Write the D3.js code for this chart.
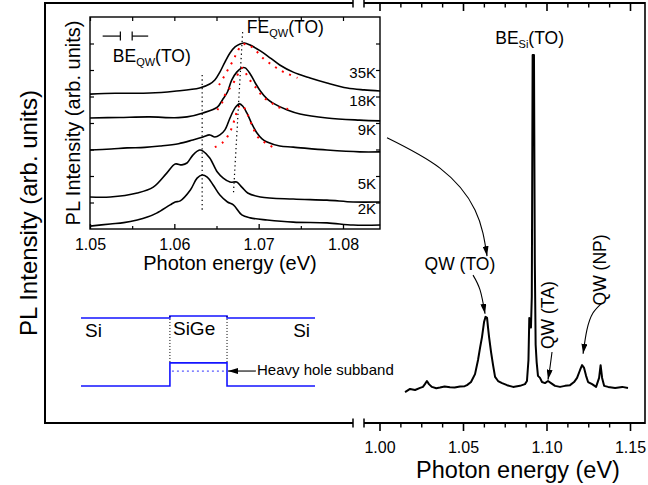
<!DOCTYPE html>
<html>
<head>
<meta charset="utf-8">
<script src="https://cdn.jsdelivr.net/npm/d3@7/dist/d3.min.js"></script>
<style>
  html, body { margin: 0; padding: 0; background: #fff; }
  svg { display: block; }
</style>
</head>
<body>
<svg id="chart" width="648" height="485"></svg>
<script>
// ---------- main spectrum (PL, 2 K) ----------
const mainEnergy = [1.0153,1.0183,1.0213,1.0243,1.0260,1.0272,1.0284,1.0296,1.0314,1.0340,1.0362,1.0390,1.0422,1.0450,1.0482,1.0510,1.0524,1.0548,1.0572,1.0590,1.0602,1.0614,1.0626,1.0635,1.0644,1.0650,1.0656,1.0668,1.0680,1.0692,1.0710,1.0734,1.0764,1.0800,1.0841,1.0871,1.0883,1.0892,1.0897,1.0902,1.0907,1.0912,1.0917,1.0925,1.0930,1.0935,1.0941,1.0949,1.0961,1.0973,1.0991,1.1009,1.1027,1.1051,1.1081,1.1111,1.1141,1.1165,1.1183,1.1201,1.1213,1.1225,1.1237,1.1249,1.1273,1.1297,1.1315,1.1324,1.1333,1.1345,1.1369,1.1411,1.1453,1.1488];
const mainIntensity = [2.3,3.2,2.9,3.5,3.8,4.6,5.5,4.6,3.8,3.4,3.6,3.9,3.7,3.6,3.9,4.0,4.3,5.2,7.5,11.6,15.1,18.3,22.6,24.1,23.8,20.9,18.3,13.9,10.1,6.7,5.5,4.9,4.3,3.8,4.1,4.6,5.5,11.6,23.8,22.5,21.0,30,100,100,40,16,11,7.0,6.4,5.2,4.9,5.5,4.9,4.1,3.8,4.1,4.3,5.2,6.4,8.7,10.1,9.3,7.0,5.2,4.6,3.8,6.4,10.1,6.4,4.1,3.8,3.5,3.8,3.5];

const mainTicksMajor = [1.00, 1.05, 1.10, 1.15];
const mainTickLabels = ["1.00", "1.05", "1.10", "1.15"];
const mainTicksMinor = [1.0125, 1.025, 1.0375, 1.0625, 1.075, 1.0875, 1.1125, 1.125, 1.1375];

// ---------- temperature series (stacked, arb. units) ----------
const spec35K = [[1.0500,5.09],[1.0530,5.12],[1.0571,5.13],[1.0600,5.20],[1.0630,5.32],[1.0642,5.47],[1.0648,5.62],[1.0654,5.92],[1.0660,6.30],[1.0666,6.64],[1.0672,6.87],[1.0678,6.98],[1.0683,7.02],[1.0690,6.94],[1.0702,6.72],[1.0714,6.45],[1.0725,6.19],[1.0741,5.92],[1.0761,5.70],[1.0781,5.51],[1.0805,5.32],[1.0825,5.25],[1.0844,5.21]];
const spec18K = [[1.0500,4.19],[1.0535,4.21],[1.0571,4.23],[1.0600,4.20],[1.0615,4.23],[1.0634,4.38],[1.0651,4.60],[1.0657,4.87],[1.0663,5.17],[1.0668,5.62],[1.0674,5.92],[1.0680,6.08],[1.0684,6.08],[1.0690,5.85],[1.0696,5.51],[1.0702,5.21],[1.0710,4.91],[1.0717,4.75],[1.0734,4.49],[1.0749,4.34],[1.0781,4.19],[1.0820,4.11],[1.0844,4.08]];
const spec9K = [[1.0500,2.98],[1.0525,3.02],[1.0544,3.06],[1.0565,3.08],[1.0583,3.13],[1.0605,3.22],[1.0622,3.36],[1.0634,3.47],[1.0642,3.55],[1.0648,3.47],[1.0654,3.55],[1.0660,3.74],[1.0666,4.19],[1.0672,4.57],[1.0677,4.72],[1.0681,4.64],[1.0686,4.38],[1.0692,3.96],[1.0698,3.62],[1.0704,3.40],[1.0710,3.28],[1.0725,3.13],[1.0741,3.09],[1.0781,2.98],[1.0820,2.91],[1.0844,2.91]];
const spec5K = [[1.0500,1.21],[1.0524,1.21],[1.0556,1.36],[1.0575,1.58],[1.0591,2.11],[1.0601,2.45],[1.0609,2.42],[1.0615,2.49],[1.0622,2.79],[1.0630,2.98],[1.0634,2.94],[1.0642,2.68],[1.0651,2.15],[1.0658,1.92],[1.0666,1.77],[1.0674,1.77],[1.0680,1.58],[1.0687,1.36],[1.0702,1.21],[1.0741,1.13],[1.0781,1.09],[1.0812,1.02],[1.0844,1.02]];
const spec2K = [[1.0500,0.11],[1.0524,0.19],[1.0540,0.24],[1.0556,0.34],[1.0568,0.45],[1.0579,0.60],[1.0595,0.91],[1.0601,1.02],[1.0607,1.06],[1.0619,1.47],[1.0627,1.92],[1.0633,2.04],[1.0639,1.96],[1.0646,1.66],[1.0654,1.28],[1.0663,1.02],[1.0670,0.91],[1.0680,0.53],[1.0690,0.42],[1.0710,0.34],[1.0741,0.26],[1.0781,0.23],[1.0812,0.15],[1.0844,0.15]];

// line-shape fits of the free-exciton line
const fit35K = [[1.0653,5.43],[1.0658,5.70],[1.0664,6.04],[1.0670,6.38],[1.0674,6.64],[1.0680,6.94],[1.0686,6.98],[1.0696,6.75],[1.0706,6.42],[1.0716,6.19],[1.0725,6.00],[1.0735,5.85],[1.0746,5.70]];
const fit18K = [[1.0651,4.49],[1.0657,4.79],[1.0660,5.06],[1.0666,5.32],[1.0672,5.62],[1.0678,6.00],[1.0681,6.08],[1.0686,5.81],[1.0692,5.51],[1.0699,5.25],[1.0705,4.98],[1.0714,4.79],[1.0723,4.60],[1.0735,4.53]];
const fit9K = [[1.0648,3.09],[1.0658,3.28],[1.0666,3.66],[1.0672,4.19],[1.0676,4.60],[1.0680,4.68],[1.0686,4.38],[1.0692,3.92],[1.0699,3.47],[1.0708,3.25],[1.0717,3.09]];

const insetSeries = [spec35K, spec18K, spec9K, spec5K, spec2K];
const insetFits = [fit35K, fit18K, fit9K];
const tempLabels = ["35K", "18K", "9K", "5K", "2K"];
const tempLabelLevel = [5.70, 4.64, 3.55, 1.51, 0.57];

const insetTicksMajor = [1.05, 1.06, 1.07, 1.08];
const insetTickLabels = ["1.05", "1.06", "1.07", "1.08"];
const insetTicksMinor = [1.055, 1.065, 1.075];
const insetTicksY = [1, 2, 3, 4, 5, 6, 7];

// ---------- band-edge sketch of the Si/SiGe/Si well ----------
const layerEdges = [0, 38, 62.4, 100];         // depth, arb.
const layerNames = ["Si", "SiGe", "Si"];
const conductionLevel = [1.0, 1.03, 1.0];      // per layer
const valenceLevel = [0.0, 0.34, 0.0];         // per layer
const heavyHoleLevel = 0.22;

// ---------- drawing ----------
const FONT = "'Liberation Sans', Arial, Helvetica, sans-serif";
const svg = d3.select("#chart").attr("font-family", FONT);

const frame = { left: 45, right: 645, top: 3, bottom: 423, breakL: 353, breakR: 364 };
const inset = { left: 90, right: 380, top: 17, bottom: 229 };

const xMain = d3.scaleLinear().domain([1.00, 1.15]).range([379.5, 630]);
const yMain = d3.scaleLinear().domain([0, 100]).range([400, 55]);
const xIn = d3.scaleLinear().domain([1.05, 1.08]).range([inset.left, 343]);
const yIn = d3.scaleLinear().domain([0, 8]).range([inset.bottom, inset.top]);
const xBand = d3.scaleLinear().domain([0, 100]).range([81, 315]);
const yBand = d3.scaleLinear().domain([0, 1]).range([386, 318]);

const defs = svg.append("defs");
defs.append("marker").attr("id", "arrowHead")
  .attr("viewBox", "0 0 10 10").attr("refX", 10).attr("refY", 5)
  .attr("markerWidth", 10).attr("markerHeight", 6)
  .attr("markerUnits", "userSpaceOnUse").attr("orient", "auto")
  .attr("preserveAspectRatio", "none")
  .append("path").attr("d", "M0,0L10,5L0,10z").attr("fill", "#000");

// outer frame with broken energy axis
const fr = svg.append("g").attr("stroke", "#000").attr("fill", "none");
fr.append("line").attr("x1", frame.left).attr("x2", frame.left).attr("y1", frame.top - 1).attr("y2", frame.bottom + 1).attr("stroke-width", 2);
fr.append("line").attr("x1", frame.right).attr("x2", frame.right).attr("y1", frame.top - 1).attr("y2", frame.bottom + 1).attr("stroke-width", 1.6);
[frame.top, frame.bottom].forEach(yy => {
  fr.append("line").attr("x1", frame.left).attr("x2", frame.breakL).attr("y1", yy).attr("y2", yy).attr("stroke-width", 2);
  fr.append("line").attr("x1", frame.breakR).attr("x2", frame.right).attr("y1", yy).attr("y2", yy).attr("stroke-width", 2);
  [frame.breakL, frame.breakR].forEach(xx => {
    fr.append("line").attr("x1", xx).attr("x2", xx).attr("y1", Math.max(0, yy - 4.5)).attr("y2", yy + 4.5).attr("stroke-width", 1.5);
  });
});

function cleanAxis(g, w, keepText) {
  g.select(".domain").remove();
  g.selectAll("line").attr("stroke", "#000").attr("stroke-width", w);
  if (!keepText) g.selectAll("text").remove();
  g.attr("font-family", FONT);
}

// main energy axis (right segment)
svg.append("g").attr("transform", `translate(0,${frame.bottom})`)
  .call(d3.axisBottom(xMain).tickValues(mainTicksMajor).tickFormat((d, i) => mainTickLabels[i]).tickSize(8).tickPadding(10.8))
  .call(g => cleanAxis(g, 1.6, true))
  .attr("font-size", 16);
svg.append("g").attr("transform", `translate(0,${frame.bottom})`)
  .call(d3.axisBottom(xMain).tickValues(mainTicksMinor).tickSize(4.5))
  .call(g => cleanAxis(g, 1.4));
svg.append("g").attr("transform", `translate(0,${frame.top})`)
  .call(d3.axisTop(xMain).tickValues(mainTicksMajor).tickSize(-8))
  .call(g => cleanAxis(g, 1.6));
svg.append("g").attr("transform", `translate(0,${frame.top})`)
  .call(d3.axisTop(xMain).tickValues(mainTicksMinor).tickSize(-4.5))
  .call(g => cleanAxis(g, 1.4));

svg.append("text").attr("x", 518).attr("y", 477.6).attr("text-anchor", "middle")
  .attr("font-size", 23.5).text("Photon energy (eV)");
svg.append("text").attr("transform", "translate(37,213) rotate(-90)").attr("text-anchor", "middle")
  .attr("font-size", 24).text("PL Intensity (arb. units)");

// main spectrum
const mainPts = mainEnergy.map((e, i) => [e, mainIntensity[i]]);
svg.append("path").datum(mainPts)
  .attr("d", d3.line().x(d => xMain(d[0])).y(d => yMain(d[1])))
  .attr("fill", "none").attr("stroke", "#000").attr("stroke-width", 2).attr("stroke-linejoin", "round");

// peak annotations
const arrowLine = d3.line().x(d => xMain(d[0])).y(d => yMain(d[1])).curve(d3.curveNatural);
const arrows = [
  [[1.0045, 76.0], [1.0362, 67.2], [1.0572, 55.1], [1.0644, 41.7]],
  [[1.0560, 36.2], [1.0602, 31.9], [1.0632, 25.0]],
  [[1.1033, 13.9], [1.1021, 9.5], [1.1009, 5.9]],
  [[1.1332, 28.1], [1.1278, 25.2], [1.1242, 20.3], [1.1219, 13.4]]
];
arrows.forEach(a => {
  svg.append("path").datum(a).attr("d", arrowLine)
    .attr("fill", "none").attr("stroke", "#000").attr("stroke-width", 1.1)
    .attr("marker-end", "url(#arrowHead)");
});

svg.append("text").attr("x", xMain(1.0270)).attr("y", yMain(37.7)).attr("font-size", 17.5).text("QW (TO)");
svg.append("text").attr("transform", `translate(${xMain(1.1045)},${yMain(24.6)}) rotate(-90)`)
  .attr("text-anchor", "middle").attr("font-size", 17.5).text("QW (TA)");
svg.append("text").attr("transform", `translate(${xMain(1.1359)},${yMain(37.7)}) rotate(-90)`)
  .attr("text-anchor", "middle").attr("font-size", 17.5).text("QW (NP)");

const beSi = svg.append("text").attr("x", xMain(1.0693)).attr("y", yMain(103.2)).attr("font-size", 17.5);
beSi.append("tspan").text("BE");
beSi.append("tspan").attr("font-size", 11).attr("dy", 4).text("Si");
beSi.append("tspan").attr("dy", -4).text("(TO)");

// ---------- inset: temperature dependence ----------
const ins = svg.append("g");
ins.append("rect").attr("x", inset.left).attr("y", inset.top)
  .attr("width", inset.right - inset.left).attr("height", inset.bottom - inset.top)
  .attr("fill", "none").attr("stroke", "#000").attr("stroke-width", 1.4);

ins.append("g").attr("transform", `translate(0,${inset.bottom})`)
  .call(d3.axisBottom(xIn).tickValues(insetTicksMajor).tickFormat((d, i) => insetTickLabels[i]).tickSizeInner(-5).tickSizeOuter(0).tickPadding(9.6))
  .call(g => cleanAxis(g, 1.3, true))
  .attr("font-size", 16);
ins.append("g").attr("transform", `translate(0,${inset.bottom})`)
  .call(d3.axisBottom(xIn).tickValues(insetTicksMinor).tickSizeInner(-3).tickSizeOuter(0))
  .call(g => cleanAxis(g, 1.2));
ins.append("g").attr("transform", `translate(0,${inset.top})`)
  .call(d3.axisTop(xIn).tickValues(insetTicksMajor.concat(insetTicksMinor)).tickSizeInner(-4).tickSizeOuter(0))
  .call(g => cleanAxis(g, 1.2));
ins.append("g").attr("transform", `translate(${inset.left},0)`)
  .call(d3.axisLeft(yIn).tickValues(insetTicksY).tickSizeInner(-4).tickSizeOuter(0))
  .call(g => cleanAxis(g, 1.2));
ins.append("g").attr("transform", `translate(${inset.right},0)`)
  .call(d3.axisRight(yIn).tickValues(insetTicksY).tickSizeInner(-4).tickSizeOuter(0))
  .call(g => cleanAxis(g, 1.2));

ins.append("text").attr("x", 230).attr("y", 270).attr("text-anchor", "middle")
  .attr("font-size", 20).text("Photon energy (eV)");
ins.append("text").attr("transform", `translate(80,${(inset.top + inset.bottom) / 2}) rotate(-90)`)
  .attr("text-anchor", "middle").attr("font-size", 20).text("PL Intensity (arb. units)");

const inLine = d3.line().x(d => xIn(d[0])).y(d => yIn(d[1])).curve(d3.curveCatmullRom.alpha(0.5));
insetSeries.forEach(s => {
  ins.append("path").datum(s).attr("d", inLine)
    .attr("fill", "none").attr("stroke", "#000").attr("stroke-width", 1.6);
});
insetFits.forEach(s => {
  ins.append("path").datum(s).attr("d", inLine)
    .attr("fill", "none").attr("stroke", "#ff0000").attr("stroke-width", 2)
    .attr("stroke-dasharray", "2,6");
});
tempLabels.forEach((t, i) => {
  ins.append("text").attr("x", inset.right - 4).attr("y", yIn(tempLabelLevel[i]))
    .attr("text-anchor", "end").attr("font-size", 15).text(t);
});

// exciton line positions
const markers = [
  [[1.0633, 5.81], [1.0633, 0.72]],
  [[1.0681, 7.43], [1.0670, 1.28]]
];
markers.forEach(m => {
  ins.append("line").attr("x1", xIn(m[0][0])).attr("y1", yIn(m[0][1]))
    .attr("x2", xIn(m[1][0])).attr("y2", yIn(m[1][1]))
    .attr("stroke", "#000").attr("stroke-width", 1.2).attr("stroke-dasharray", "1.3,3");
});

const feLab = ins.append("text").attr("x", xIn(1.0686)).attr("y", yIn(7.40)).attr("font-size", 17.5);
feLab.append("tspan").text("FE");
feLab.append("tspan").attr("font-size", 11).attr("dy", 4).text("QW");
feLab.append("tspan").attr("dy", -4).text("(TO)");
const beLab = ins.append("text").attr("x", xIn(1.0527)).attr("y", yIn(6.30)).attr("font-size", 17.5);
beLab.append("tspan").text("BE");
beLab.append("tspan").attr("font-size", 11).attr("dy", 4).text("QW");
beLab.append("tspan").attr("dy", -4).text("(TO)");

// splitting bar
const bar = ins.append("g").attr("stroke", "#000").attr("stroke-width", 1.2);
const barY = 7.28, barH = 0.17;
bar.append("line").attr("x1", xIn(1.0515)).attr("x2", xIn(1.0536)).attr("y1", yIn(barY)).attr("y2", yIn(barY));
bar.append("line").attr("x1", xIn(1.0536)).attr("x2", xIn(1.0536)).attr("y1", yIn(barY + barH)).attr("y2", yIn(barY - barH));
bar.append("line").attr("x1", xIn(1.0550)).attr("x2", xIn(1.0550)).attr("y1", yIn(barY + barH)).attr("y2", yIn(barY - barH));
bar.append("line").attr("x1", xIn(1.0550)).attr("x2", xIn(1.0569)).attr("y1", yIn(barY)).attr("y2", yIn(barY));

// ---------- band-edge sketch ----------
const band = svg.append("g");
const BLUE = "#1414ff";
function stepLine(levels) {
  const pts = [];
  levels.forEach((lv, i) => { pts.push([layerEdges[i], lv]); pts.push([layerEdges[i + 1], lv]); });
  return pts;
}
const bandLine = d3.line().x(d => xBand(d[0])).y(d => yBand(d[1]));
[conductionLevel, valenceLevel].forEach(lv => {
  band.append("path").datum(stepLine(lv)).attr("d", bandLine)
    .attr("fill", "none").attr("stroke", BLUE).attr("stroke-width", 1.6);
});
band.append("line").attr("x1", xBand(layerEdges[1]) + 2).attr("x2", xBand(layerEdges[2]) - 2)
  .attr("y1", yBand(heavyHoleLevel)).attr("y2", yBand(heavyHoleLevel))
  .attr("stroke", "#5a5aff").attr("stroke-width", 1.2).attr("stroke-dasharray", "2,3");
[layerEdges[1], layerEdges[2]].forEach(e => {
  band.append("line").attr("x1", xBand(e)).attr("x2", xBand(e))
    .attr("y1", yBand(conductionLevel[1])).attr("y2", yBand(valenceLevel[1]))
    .attr("stroke", "#000").attr("stroke-width", 1).attr("stroke-dasharray", "1,2");
});
band.append("text").attr("x", xBand(1.7)).attr("y", yBand(0.72)).attr("font-size", 19).text(layerNames[0]);
band.append("text").attr("x", xBand(39.3)).attr("y", yBand(0.75)).attr("font-size", 19).text(layerNames[1]);
band.append("text").attr("x", xBand(97.9)).attr("y", yBand(0.72)).attr("text-anchor", "end").attr("font-size", 19).text(layerNames[2]);
band.append("line").attr("x1", xBand(75.2) - 1).attr("x2", xBand(layerEdges[2]) + 1)
  .attr("y1", yBand(heavyHoleLevel)).attr("y2", yBand(heavyHoleLevel))
  .attr("stroke", "#000").attr("stroke-width", 1.1).attr("marker-end", "url(#arrowHead)");
band.append("text").attr("x", xBand(75.2)).attr("y", yBand(0.16)).attr("font-size", 15).text("Heavy hole subband");
</script>
</body>
</html>
